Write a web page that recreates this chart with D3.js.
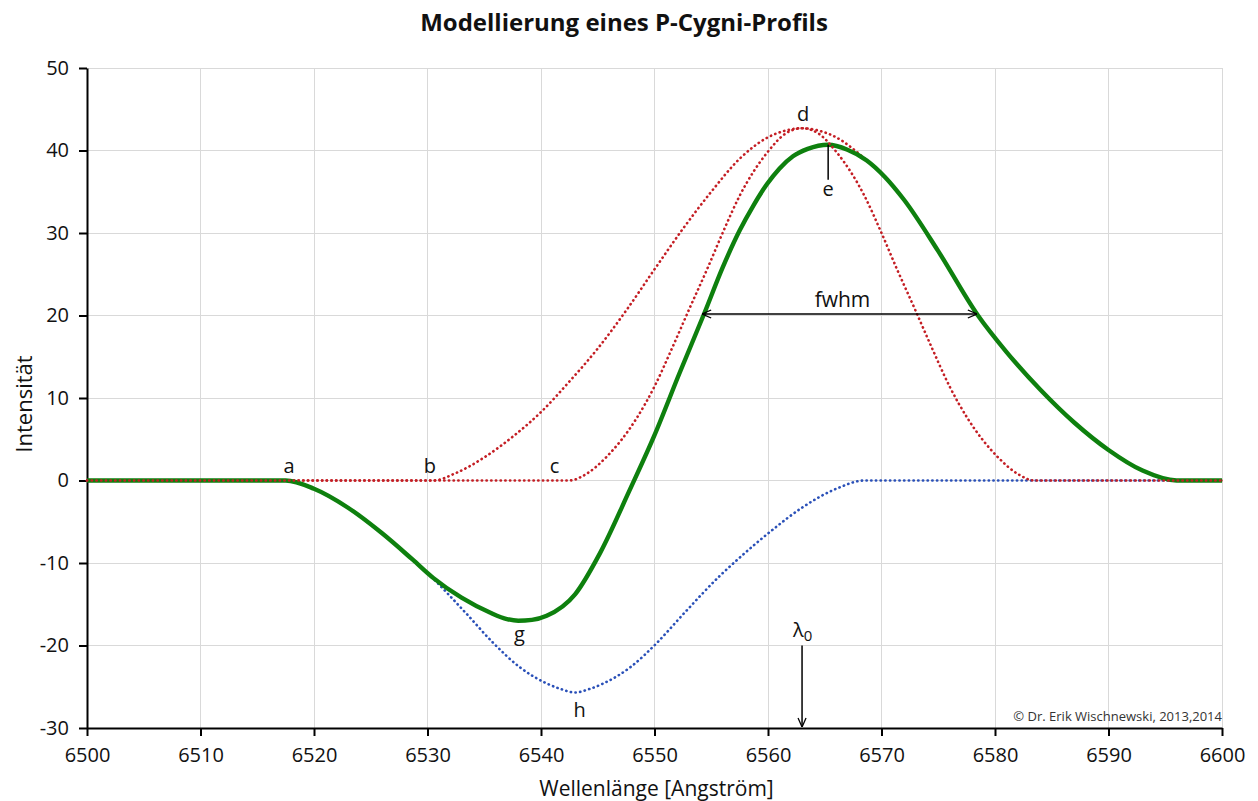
<!DOCTYPE html>
<meta charset="utf-8">
<title>Modellierung eines P-Cygni-Profils</title>
<script src="https://d3js.org/d3.v7.min.js"></script>
<style>
body { margin: 0; background: white; }
text { font-family: "Open Sans", "DejaVu Sans", sans-serif; fill: #111; }
.grid line { stroke: #d9d9d9; stroke-width: 1px; shape-rendering: crispEdges; }
.axis path, .axis line { stroke: black; stroke-width: 2px; }
.axis text { font-size: 20px; fill: #111; }
</style>
<body>
<div id="chart"></div>
<script>
// axis ticks
var xTicks = [6500, 6510, 6520, 6530, 6540, 6550, 6560, 6570, 6580, 6590, 6600];
var yTicks = [-30, -20, -10, 0, 10, 20, 30, 40, 50];

// absorption (blue dotted)
var absLambda = [6500, 6517.5, 6519.9, 6522.9, 6525.8, 6528.7, 6530.2, 6533.4, 6535.8, 6538.1, 6540.5, 6541.8, 6543, 6544.2, 6545.5, 6547.9, 6550.2, 6552.6, 6555.8, 6557.3, 6560.2, 6563.1, 6566.1, 6568.5, 6600];
var absValue  = [0, 0, -0.95, -3.2, -6.2, -9.6, -11.5, -16.1, -19.7, -22.6, -24.6, -25.3, -25.7, -25.3, -24.6, -22.6, -19.7, -16.1, -11.5, -9.6, -6.2, -3.2, -0.95, 0, 0];

// broad emission (red dotted, starts at b)
var emBroadLambda = [6500, 6530.5, 6532.5, 6535, 6537.5, 6540, 6542.5, 6545, 6547.5, 6550, 6552.5, 6555, 6557.5, 6560, 6561.5, 6563, 6564.5, 6566, 6568.7, 6570.3, 6572, 6575, 6578.5, 6581, 6584, 6587, 6590, 6593, 6596, 6600];
var emBroadValue  = [0, 0, 0.9, 2.8, 5.3, 8.3, 12.0, 16.0, 20.6, 25.6, 30.5, 35.0, 39.0, 41.6, 42.4, 42.7, 42.4, 41.6, 38.8, 36.8, 34.0, 27.8, 20.0, 15.6, 11.0, 7.0, 3.7, 1.2, 0, 0];

// narrow emission (red dotted, starts at c)
var emNarrowLambda = [6500, 6542.5, 6544, 6545.8, 6548.4, 6550, 6551.6, 6553.1, 6554.6, 6556, 6557.5, 6559.9, 6561.6, 6563, 6564.4, 6566.1, 6568.5, 6570, 6571.4, 6572.9, 6574.4, 6576, 6577.6, 6580.2, 6582, 6583.5, 6600];
var emNarrowValue  = [0, 0, 0.8, 2.9, 7.5, 11.4, 16.2, 20.9, 25.5, 30.0, 34.5, 39.7, 42.1, 42.7, 42.1, 39.7, 34.5, 30.0, 25.5, 20.9, 16.2, 11.4, 7.5, 2.9, 0.8, 0, 0];

// resulting profile (green)
var profLambda = [6500, 6517.5, 6520, 6523, 6526, 6528.7, 6530.5, 6533, 6535.5, 6537, 6538, 6539.2, 6540.5, 6543, 6545.2, 6547.8, 6550, 6552.2, 6554.4, 6556, 6557.5, 6558.7, 6559.9, 6561, 6562.2, 6563.5, 6565.3, 6567, 6568.7, 6570.3, 6572, 6575, 6578.5, 6581, 6584, 6587, 6590, 6593, 6596, 6600];
var profValue  = [0, 0, -1.0, -3.3, -6.4, -9.6, -11.8, -14.2, -16.0, -16.8, -17.0, -16.9, -16.4, -13.8, -8.8, -1.2, 5.5, 13.0, 20.3, 25.8, 30.3, 33.3, 35.9, 37.8, 39.3, 40.2, 40.7, 40.1, 38.8, 36.8, 34.0, 27.8, 20.0, 15.6, 11.0, 7.0, 3.7, 1.2, 0, 0];

// annotated points
var markLabels  = ["a", "b", "c", "d", "g", "h"];
var markLambda  = [6517.8, 6530.2, 6541.2, 6563.1, 6538.1, 6543.4];
var markValue   = [0, 0, 0, 42.7, -17.0, -25.7];
var fwhmLambda  = [6554.2, 6578.4];
var fwhmValue   = 20;
var peakLambda  = 6565.3;
var peakValue   = 40.7;
var lambda0     = 6563;

var margin = {top: 68, right: 36, bottom: 73, left: 87},
    width = 1258 - margin.left - margin.right,
    height = 801 - margin.top - margin.bottom;

var svg = d3.select("#chart")
  .append("svg")
    .attr("width", 1258)
    .attr("height", 801)
  .append("g")
    .attr("transform", "translate(" + margin.left + "," + margin.top + ")");

var x = d3.scaleLinear().domain([6500, 6600]).range([0, width]);
var y = d3.scaleLinear().domain([-30, 50]).range([height, 0]);

// grid
var grid = svg.append("g").attr("class", "grid");
grid.selectAll(".gx")
  .data(xTicks.slice(1))
  .enter().append("line")
    .attr("x1", function(d) { return x(d); })
    .attr("x2", function(d) { return x(d); })
    .attr("y1", 0).attr("y2", height);
grid.selectAll(".gy")
  .data(yTicks.slice(1))
  .enter().append("line")
    .attr("x1", 0).attr("x2", width)
    .attr("y1", function(d) { return y(d); })
    .attr("y2", function(d) { return y(d); });

// axes (plain hyphen for negatives, like the original)
svg.append("g")
  .attr("class", "axis")
  .attr("transform", "translate(0," + height + ")")
  .call(d3.axisBottom(x).tickValues(xTicks).tickFormat(function(d) { return "" + d; }).tickSize(8).tickSizeOuter(0).tickPadding(12));
svg.append("g")
  .attr("class", "axis")
  .call(d3.axisLeft(y).tickValues(yTicks).tickFormat(function(d) { return "" + d; }).tickSize(8).tickSizeOuter(0).tickPadding(10));

// curves
function series(lambdas, values) {
  return lambdas.map(function(l, i) { return [l, values[i]]; });
}
var line = d3.line()
  .x(function(d) { return x(d[0]); })
  .y(function(d) { return y(d[1]); })
  .curve(d3.curveMonotoneX);

function dotted(data, color) {
  svg.append("path")
    .datum(data)
    .attr("fill", "none")
    .attr("stroke", color)
    .attr("stroke-width", 2.6)
    .attr("stroke-linecap", "round")
    .attr("stroke-dasharray", "0.3,4.4")
    .attr("d", line);
}

dotted(series(absLambda, absValue), "#2a50b8");
dotted(series(emBroadLambda, emBroadValue), "#c41e24");

svg.append("path")
  .datum(series(profLambda, profValue))
  .attr("fill", "none")
  .attr("stroke", "#0e800e")
  .attr("stroke-width", 4.4)
  .attr("stroke-linejoin", "round")
  .attr("d", line);

dotted(series(emNarrowLambda, emNarrowValue), "#c41e24");

// arrow head
svg.append("defs").append("marker")
    .attr("id", "arrow")
    .attr("viewBox", "0 0 10 10")
    .attr("refX", 10).attr("refY", 5)
    .attr("markerWidth", 10).attr("markerHeight", 10)
    .attr("markerUnits", "userSpaceOnUse")
    .attr("orient", "auto-start-reverse")
  .append("path")
    .attr("d", "M1,1 L10,5 L1,9")
    .attr("fill", "none")
    .attr("stroke", "black")
    .attr("stroke-width", 1.3);

// fwhm
svg.append("line")
  .attr("x1", x(fwhmLambda[0])).attr("x2", x(fwhmLambda[1]))
  .attr("y1", y(fwhmValue) - 1.5).attr("y2", y(fwhmValue) - 1.5)
  .attr("stroke", "black").attr("stroke-width", 1.3)
  .attr("marker-start", "url(#arrow)")
  .attr("marker-end", "url(#arrow)");
svg.append("text")
  .attr("x", x((fwhmLambda[0] + fwhmLambda[1]) / 2) + 3)
  .attr("y", y(fwhmValue) - 9)
  .attr("text-anchor", "middle")
  .style("font-size", "21px")
  .text("fwhm");

// e marker at the peak of the profile
svg.append("line")
  .attr("x1", x(peakLambda)).attr("x2", x(peakLambda))
  .attr("y1", y(peakValue)).attr("y2", y(peakValue) + 35)
  .attr("stroke", "black").attr("stroke-width", 1.5);
svg.append("text")
  .attr("x", x(peakLambda))
  .attr("y", y(peakValue) + 51)
  .attr("text-anchor", "middle")
  .style("font-size", "20px")
  .text("e");

// point labels
var dy = {a: -8, b: -8, c: -8, d: -7, g: 20, h: 24};
svg.selectAll(".mark")
  .data(markLabels)
  .enter().append("text")
    .attr("x", function(d, i) { return x(markLambda[i]); })
    .attr("y", function(d, i) { return y(markValue[i]) + dy[d]; })
    .attr("text-anchor", "middle")
    .style("font-size", "20px")
    .text(function(d) { return d; });

// lambda 0
svg.append("line")
  .attr("x1", x(lambda0)).attr("x2", x(lambda0))
  .attr("y1", y(-20)).attr("y2", height - 1)
  .attr("stroke", "black").attr("stroke-width", 1.5)
  .attr("marker-end", "url(#arrow)");
var l0 = svg.append("text")
  .attr("x", x(lambda0) - 9)
  .attr("y", y(-20) - 9)
  .style("font-size", "20px");
l0.append("tspan").text("λ");
l0.append("tspan").attr("dy", 4).style("font-size", "15px").text("0");

// copyright
svg.append("text")
  .attr("x", width)
  .attr("y", height - 7)
  .attr("text-anchor", "end")
  .style("font-size", "13px")
  .style("fill", "#333")
  .text("© Dr. Erik Wischnewski, 2013,2014");

// titles
svg.append("text")
  .attr("x", 624 - margin.left)
  .attr("y", 31 - margin.top)
  .attr("text-anchor", "middle")
  .style("font-size", "24px")
  .style("font-weight", "700")
  .text("Modellierung eines P-Cygni-Profils");

svg.append("text")
  .attr("x", width / 2 + 2)
  .attr("y", height + 68)
  .attr("text-anchor", "middle")
  .style("font-size", "21px")
  .text("Wellenlänge [Angström]");

svg.append("text")
  .attr("transform", "rotate(-90)")
  .attr("x", -(height / 2) - 6)
  .attr("y", -55)
  .attr("text-anchor", "middle")
  .style("font-size", "22px")
  .text("Intensität");
</script>
